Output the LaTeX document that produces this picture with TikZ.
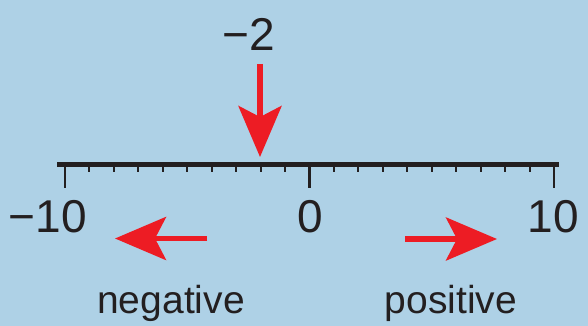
\documentclass[tikz,border=0pt]{standalone}
\usepackage{fontspec}
\setmainfont{Liberation Sans}
\usetikzlibrary{arrows.meta}
\definecolor{bgblue}{RGB}{174,209,230}
\definecolor{arrred}{RGB}{237,28,36}
\definecolor{inkblack}{RGB}{35,31,32}
\begin{document}
\begin{tikzpicture}[x=1pt,y=-1pt,
  numlabel/.style={text=inkblack,font=\fontsize{46}{46}\selectfont,inner sep=0pt,anchor=center},
  wordlabel/.style={text=inkblack,font=\fontsize{39}{39}\selectfont,inner sep=0pt,anchor=base},
  redarrow/.style={draw=arrred,line width=5.5pt,-{Stealth[length=51pt,width=43pt,inset=11pt,fill=arrred]}},
  axisline/.style={draw=inkblack,line width=5pt},
  minortick/.style={draw=inkblack,line width=2pt},
  majortick/.style={draw=inkblack,line width=2.6pt}]
\fill[bgblue] (0,0) rectangle (588,326);
\useasboundingbox (0,0) rectangle (588,326);
% axis
\coordinate (axL) at (57,164.5);
\coordinate (axR) at (559,164.5);
\draw[axisline] (axL) -- (axR);
\foreach \k in {-9,...,-1,1,2,...,9}{
  \draw[minortick] (309.5+24.45*\k,164) -- (309.5+24.45*\k,171.5);
}
\foreach \k in {-10,0,10}{
  \draw[majortick] (309.5+24.45*\k,164) -- (309.5+24.45*\k,187.5);
}
% number labels
\node[numlabel] (lm10) at (48,216.5) {−10};
\node[numlabel] (l0) at (310,216.5) {0};
\node[numlabel] (l10) at (553,216.5) {10};
\node[numlabel] (lm2) at (249,34) {−2};
% arrows
\coordinate (dstart) at (260,64);
\coordinate (dtip) at (260,157);
\draw[redarrow] (dstart) -- (dtip);
\coordinate (lstart) at (207,238.5);
\coordinate (ltip) at (115,238.5);
\draw[redarrow] (lstart) -- (ltip);
\coordinate (rstart) at (405,239);
\coordinate (rtip) at (497,239);
\draw[redarrow] (rstart) -- (rtip);
% words
\node[wordlabel] (neg) at (171,313) {negative};
\node[wordlabel] (pos) at (451,313) {positive};
\end{tikzpicture}
\end{document}
